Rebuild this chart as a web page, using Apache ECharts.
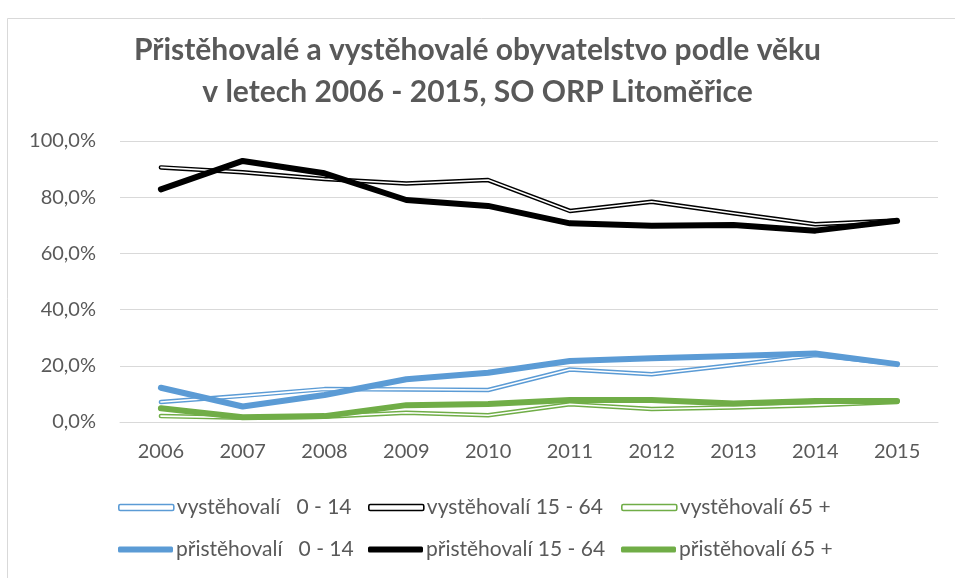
<!DOCTYPE html>
<html>
<head>
<meta charset="utf-8">
<title>Přistěhovalé a vystěhovalé obyvatelstvo</title>
<script src="https://cdn.jsdelivr.net/npm/echarts@6/dist/echarts.min.js"></script>
<style>
    html, body { margin: 0; padding: 0; background: #fff; }
    #linechart { width: 955px; height: 578px; }
</style>
</head>
<body>
<div id="linechart"></div>
<script>
// data (share in %)
var years = ["2006", "2007", "2008", "2009", "2010", "2011", "2012", "2013", "2014", "2015"];
var vystehovali0 = [7.1, 9.3, 11.7, 11.6, 11.4, 18.7, 17.0, 20.3, 23.8, 20.6];
var vystehovali15 = [90.6, 88.9, 86.5, 84.9, 86.1, 75.1, 78.4, 74.3, 70.4, 71.7];
var vystehovali65 = [2.1, 1.5, 1.9, 3.3, 2.4, 6.3, 4.6, 5.2, 6.0, 7.1];
var pristehovali0 = [12.2, 5.5, 9.6, 15.2, 17.5, 21.7, 22.7, 23.5, 24.4, 20.6];
var pristehovali15 = [82.8, 92.9, 88.5, 79.0, 76.9, 70.7, 69.8, 70.1, 68.1, 71.6];
var pristehovali65 = [4.9, 1.7, 2.1, 6.0, 6.4, 7.8, 7.8, 6.6, 7.5, 7.5];
var yTicks = [0, 20, 40, 60, 80, 100];

var names = ["vystěhovalí   0 - 14", "vystěhovalí 15 - 64", "vystěhovalí 65 +",
             "přistěhovalí   0 - 14", "přistěhovalí 15 - 64", "přistěhovalí 65 +"];
var colors = ["#5b9bd5", "#000000", "#70ad47"];
var textColor = "#595959";
var fontName = "Lato";

/**
 * čára se dvojitým tahem (barevný obrys + bílý střed)
 */
function doubleLine(name, data, color) {
    return [{
        name: name, type: "line", data: data, symbol: "none", z: 2,
        lineStyle: { color: color, width: 4.5, cap: "round", join: "round" },
        itemStyle: { color: color }
    }, {
        name: name + "_in", type: "line", data: data, symbol: "none", z: 2,
        lineStyle: { color: "#ffffff", width: 1.6, cap: "round", join: "round" },
        itemStyle: { color: "#ffffff" }
    }];
}

function solidLine(name, data, color) {
    return {
        name: name, type: "line", data: data, symbol: "none", z: 3,
        lineStyle: { color: color, width: 6, cap: "round", join: "round" },
        itemStyle: { color: color }
    };
}

function legendItem(name, left, top, color, hollow) {
    return {
        left: left, top: top, orient: "horizontal",
        itemWidth: 55, itemHeight: 6, itemGap: 0, padding: 0,
        selectedMode: false,
        textStyle: { color: textColor, fontSize: 21, fontFamily: fontName, padding: [0, 0, 0, -2] },
        data: [{
            name: name, icon: "roundRect",
            itemStyle: hollow ? { color: "#ffffff", borderColor: color, borderWidth: 1.6 } : { color: color, borderWidth: 0 }
        }]
    };
}

function initChart(id) {
    var chart = echarts.init(document.getElementById(id));
    var series = []
        .concat(doubleLine(names[0], vystehovali0, colors[0]))
        .concat(doubleLine(names[1], vystehovali15, colors[1]))
        .concat(doubleLine(names[2], vystehovali65, colors[2]));
    series.push(solidLine(names[3], pristehovali0, colors[0]));
    series.push(solidLine(names[4], pristehovali15, colors[1]));
    series.push(solidLine(names[5], pristehovali65, colors[2]));

    var option = {
        backgroundColor: "#ffffff",
        animation: false,
        title: {
            text: "Přistěhovalé a vystěhovalé obyvatelstvo podle věku\nv letech 2006 - 2015, SO ORP Litoměřice",
            left: "center",
            top: 24,
            textStyle: { color: textColor, fontSize: 30, fontWeight: "bold", fontFamily: fontName, lineHeight: 42 }
        },
        graphic: [{
            type: "rect",
            shape: { x: 7.5, y: 18.5, width: 990, height: 620 },
            style: { fill: null, stroke: "#d9d9d9", lineWidth: 1 },
            silent: true
        }],
        legend: [
            legendItem(names[0], 118, 497, colors[0], true),
            legendItem(names[1], 368, 497, colors[1], true),
            legendItem(names[2], 621, 497, colors[2], true),
            legendItem(names[3], 118, 539, colors[0], false),
            legendItem(names[4], 368, 539, colors[1], false),
            legendItem(names[5], 621, 539, colors[2], false)
        ],
        grid: { left: 120, right: 17, top: 141, bottom: 156 },
        xAxis: {
            type: "category",
            data: years,
            boundaryGap: true,
            axisLine: { show: true, lineStyle: { color: "#d9d9d9", width: 1 } },
            axisTick: { show: false },
            axisLabel: { color: textColor, fontSize: 20, fontFamily: fontName, margin: 20 }
        },
        yAxis: {
            type: "value",
            min: yTicks[0],
            max: yTicks[yTicks.length - 1],
            interval: yTicks[1] - yTicks[0],
            axisLine: { show: false },
            axisTick: { show: false },
            splitLine: { lineStyle: { color: "#d9d9d9", width: 1 } },
            axisLabel: {
                color: textColor, fontSize: 20, fontFamily: fontName, margin: 24,
                formatter: function (value) {
                    return value.toFixed(1).replace(".", ",") + "%";
                }
            }
        },
        series: series
    };
    chart.setOption(option);
}

initChart("linechart");
</script>
</body>
</html>
